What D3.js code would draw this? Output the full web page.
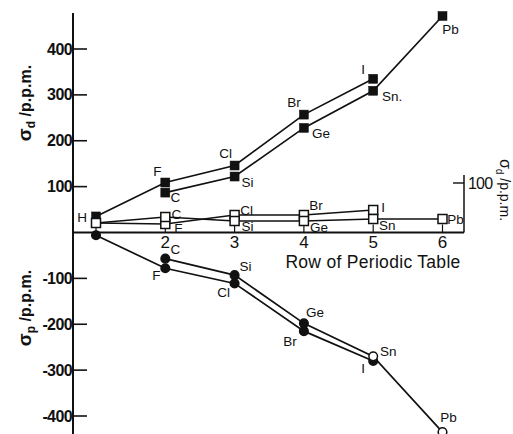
<!DOCTYPE html>
<html>
<head>
<meta charset="utf-8">
<script src="https://cdn.jsdelivr.net/npm/d3@7"></script>
<style>
  body { margin: 0; background: #fff; }
  svg { display: block; }
  text { font-family: "Liberation Sans", Arial, sans-serif; fill: #111; }
</style>
</head>
<body>
<div id="chart"></div>
<script>
// rows of the periodic table
const rowTicks = [1, 2, 3, 4, 5, 6];
const rowLabels = ["", "2", "3", "4", "5", "6"];
const halogens = ["H", "F", "Cl", "Br", "I"];
const halogenRows = [1, 2, 3, 4, 5];
const group14 = ["C", "Si", "Ge", "Sn", "Pb"];
const group14Rows = [2, 3, 4, 5, 6];

// sigma_d (left axis, upper half)
const sigmaDHal = [35, 109, 146, 257, 335];
const sigmaDG14 = [87, 122, 228, 309, 472];
// sigma_p (left axis, lower half)
const sigmaPHal = [-6, -78, -111, -215, -280];
const sigmaPG14 = [-57, -93, -198, -270, -435];
// small open squares (right axis)
const midHal = [20, 18, 36, 36, 46];
const midG14 = [32, 24, 24, 28, 28];

const leftTicks = [-400, -300, -200, -100, 100, 200, 300, 400];
const rightTicks = [100];

const W = 513, H = 434;
const svg = d3.select("#chart").append("svg").attr("width", W).attr("height", H);

const x = d3.scaleLinear().domain([1, 6]).range([96, 442.5]);
const y = d3.scaleLinear().domain([-400, 400]).range([416, 49]);
const yR = d3.scaleLinear().domain([0, 100]).range([233, 183]);

const axisX = 73, zeroY = y(0), rightX = 464;

// axes lines
svg.append("line").attr("x1", axisX).attr("x2", axisX).attr("y1", 13).attr("y2", H)
  .attr("stroke", "#111").attr("stroke-width", 2);
svg.append("line").attr("x1", axisX).attr("x2", rightX).attr("y1", zeroY).attr("y2", zeroY)
  .attr("stroke", "#111").attr("stroke-width", 2);
svg.append("line").attr("x1", rightX).attr("x2", rightX).attr("y1", 175).attr("y2", zeroY)
  .attr("stroke", "#111").attr("stroke-width", 1.5);

// left ticks
const lt = svg.append("g").selectAll("g").data(leftTicks).join("g")
  .attr("transform", d => `translate(0,${y(d)})`);
lt.append("line").attr("x1", axisX).attr("x2", axisX + 14).attr("stroke", "#111").attr("stroke-width", 1.6);
lt.append("text").attr("x", axisX - 1).attr("text-anchor", "end").attr("dominant-baseline", "central")
  .attr("font-size", 16).attr("font-weight", "bold").attr("letter-spacing", -0.6)
  .text(d => d < 0 ? "-" + (-d) : d);

// right ticks
const rt = svg.append("g").selectAll("g").data(rightTicks).join("g")
  .attr("transform", d => `translate(0,${yR(d)})`);
rt.append("line").attr("x1", rightX - 11).attr("x2", rightX).attr("stroke", "#111").attr("stroke-width", 1.4);
rt.append("text").attr("x", rightX + 4).attr("dominant-baseline", "central")
  .attr("font-size", 16).attr("letter-spacing", -0.8).text(d => d);

// x ticks
const xt = svg.append("g").selectAll("g").data(rowTicks).join("g")
  .attr("transform", d => `translate(${x(d)},${zeroY})`);
xt.append("line").attr("y1", 0).attr("y2", -8).attr("stroke", "#111").attr("stroke-width", 1.2);
xt.append("text").attr("y", 10).attr("text-anchor", "middle").attr("dominant-baseline", "central")
  .attr("font-size", 17).text((d, i) => rowLabels[i]);

svg.append("text").attr("x", 373).attr("y", 262).attr("text-anchor", "middle")
  .attr("dominant-baseline", "central").attr("font-size", 17.5).attr("letter-spacing", 0.3)
  .text("Row of Periodic Table");

// axis titles
function sigmaTitle(g, sub, big) {
  g.append("tspan").attr("font-size", big ? 19 : 16).text("σ");
  g.append("tspan").attr("font-size", big ? 12 : 10).attr("dy", 4).text(sub);
  g.append("tspan").attr("font-size", big ? 16 : 14).attr("dy", -4).text(" /p.p.m.");
}
sigmaTitle(svg.append("text").attr("transform", "translate(31,103) rotate(-90)")
  .attr("text-anchor", "middle").attr("font-weight", "bold"), "d", true);
sigmaTitle(svg.append("text").attr("transform", "translate(31,308) rotate(-90)")
  .attr("text-anchor", "middle").attr("font-weight", "bold"), "p", true);
sigmaTitle(svg.append("text").attr("transform", "translate(500,190) rotate(90)")
  .attr("text-anchor", "middle"), "d", false);

// build point lists
const pts = (names, rows, vals, scale) => names.map((n, i) => ({ n, x: x(rows[i]), y: scale(vals[i]) }));
const upHal = pts(halogens, halogenRows, sigmaDHal, y);
const upG14 = pts(group14, group14Rows, sigmaDG14, y);
const loHal = pts(halogens, halogenRows, sigmaPHal, y);
const loG14 = pts(group14, group14Rows, sigmaPG14, y);
const mdHal = pts(halogens, halogenRows, midHal, yR);
const mdG14 = pts(group14, group14Rows, midG14, yR);

const line = d3.line().x(d => d.x).y(d => d.y);
const lineG = svg.append("g").attr("fill", "none").attr("stroke", "#111").attr("stroke-width", 1.7);
[upHal, upG14, loHal, loG14, mdHal, [mdHal[0], ...mdG14]].forEach(p => lineG.append("path").attr("d", line(p)));

// markers
function squares(p, filled) {
  svg.append("g").selectAll("rect").data(p).join("rect")
    .attr("x", d => d.x - 4.5).attr("y", d => d.y - 4.5).attr("width", 9).attr("height", 9)
    .attr("fill", filled ? "#111" : "#fff").attr("stroke", "#111").attr("stroke-width", filled ? 0.5 : 1.5);
}
squares(upHal, true); squares(upG14, true);
squares(mdHal, false); squares(mdG14, false);
const openCircles = ["Sn", "Pb"];
svg.append("g").selectAll("circle").data([...loHal, ...loG14]).join("circle")
  .attr("cx", d => d.x).attr("cy", d => d.y).attr("r", 4.3)
  .attr("fill", d => openCircles.includes(d.n) ? "#fff" : "#111")
  .attr("stroke", "#111").attr("stroke-width", 1.5);

// element labels: [dx, dy] per series
const offsets = {
  up: { H: [-14, 1], F: [-8, -11], Cl: [-9, -12], Br: [-10, -12], I: [-10, -9],
        C: [10, 5], Si: [13, 6], Ge: [17, 6], Sn: [19, 6], Pb: [8, 14] },
  md: { F: [13, 4], Cl: [12, -5], Br: [12, -10], I: [10, -3],
        C: [11, -3], Si: [13, 5], Ge: [15, 6], Sn: [14, 6], Pb: [13, 0] },
  lo: { F: [-9, 7], Cl: [-11, 9], Br: [-14, 10], I: [-10, 8],
        C: [10, -9], Si: [11, -9], Ge: [11, -11], Sn: [15, -5], Pb: [6, -15] }
};
const labelText = { up: { Sn: "Sn." } };
function labels(p, key) {
  svg.append("g").selectAll("text").data(p.filter(d => offsets[key][d.n])).join("text")
    .attr("x", d => d.x + offsets[key][d.n][0]).attr("y", d => d.y + offsets[key][d.n][1])
    .attr("text-anchor", "middle").attr("dominant-baseline", "central").attr("font-size", 13.5)
    .text(d => (labelText[key] && labelText[key][d.n]) || d.n);
}
labels([...upHal, ...upG14], "up");
labels([...mdHal, ...mdG14], "md");
labels([...loHal, ...loG14], "lo");
</script>
</body>
</html>
